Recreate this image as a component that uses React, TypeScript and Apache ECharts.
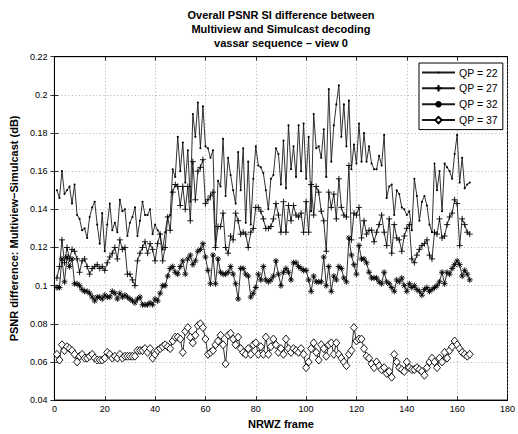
import { useEffect, useRef } from "react";
import * as echarts from "echarts";

// Frame numbers (x) shared by all series
const frames: number[] = Array.from({ length: 165 }, (_, i) => i + 1);

const seriesNames = ["QP = 22", "QP = 27", "QP = 32", "QP = 37"];

const qp22 = [
  0.150, 0.146, 0.160, 0.148, 0.150, 0.152, 0.143, 0.153, 0.137, 0.135,
  0.129, 0.130, 0.125, 0.136, 0.141, 0.144, 0.132, 0.122, 0.138, 0.118,
  0.132, 0.143, 0.129, 0.133, 0.128, 0.145, 0.139, 0.140, 0.126, 0.133,
  0.136, 0.141, 0.126, 0.134, 0.144, 0.137, 0.137, 0.140, 0.127, 0.132,
  0.129, 0.127, 0.119, 0.128, 0.136, 0.137, 0.161, 0.157, 0.178, 0.160,
  0.175, 0.154, 0.171, 0.144, 0.190, 0.178, 0.196, 0.172, 0.194, 0.173,
  0.172, 0.167, 0.171, 0.121, 0.155, 0.152, 0.177, 0.147, 0.167, 0.158,
  0.150, 0.143, 0.170, 0.150, 0.172, 0.133, 0.165, 0.132, 0.156, 0.173,
  0.163, 0.162, 0.159, 0.150, 0.140, 0.156, 0.158, 0.172, 0.169, 0.153,
  0.176, 0.151, 0.184, 0.161, 0.173, 0.157, 0.184, 0.160, 0.185, 0.156,
  0.178, 0.139, 0.190, 0.172, 0.173, 0.167, 0.182, 0.157, 0.203, 0.165,
  0.184, 0.195, 0.205, 0.178, 0.195, 0.173, 0.197, 0.161, 0.174, 0.164,
  0.185, 0.165, 0.180, 0.165, 0.173, 0.164, 0.161, 0.161, 0.168, 0.163,
  0.179, 0.146, 0.152, 0.153, 0.137, 0.150, 0.148, 0.141, 0.140, 0.137,
  0.139, 0.129, 0.156, 0.147, 0.134, 0.144, 0.147, 0.142, 0.132, 0.128,
  0.164, 0.150, 0.160, 0.139, 0.164, 0.162, 0.160, 0.156, 0.169, 0.179,
  0.154, 0.167, 0.151, 0.153, 0.154,
];

const qp27 = [
  0.104, 0.110, 0.124, 0.112, 0.120, 0.114, 0.119, 0.118, 0.114, 0.107,
  0.113, 0.114, 0.110, 0.106, 0.109, 0.110, 0.111, 0.109, 0.110, 0.108,
  0.112, 0.115, 0.117, 0.120, 0.114, 0.124, 0.119, 0.120, 0.106, 0.106,
  0.103, 0.100, 0.113, 0.117, 0.120, 0.123, 0.117, 0.122, 0.119, 0.113,
  0.122, 0.127, 0.113, 0.120, 0.136, 0.129, 0.149, 0.153, 0.152, 0.142,
  0.152, 0.140, 0.152, 0.134, 0.165, 0.145, 0.160, 0.162, 0.166, 0.143,
  0.145, 0.147, 0.149, 0.120, 0.131, 0.131, 0.138, 0.120, 0.117, 0.126,
  0.124, 0.138, 0.134, 0.127, 0.128, 0.127, 0.120, 0.128, 0.130, 0.141,
  0.141, 0.139, 0.135, 0.130, 0.130, 0.131, 0.135, 0.143, 0.137, 0.128,
  0.144, 0.128, 0.142, 0.134, 0.142, 0.137, 0.136, 0.138, 0.128, 0.144,
  0.128, 0.153, 0.137, 0.152, 0.149, 0.139, 0.134, 0.118, 0.149, 0.141,
  0.148, 0.135, 0.156, 0.141, 0.137, 0.136, 0.163, 0.124, 0.138, 0.137,
  0.141, 0.125, 0.134, 0.127, 0.129, 0.129, 0.123, 0.128, 0.132, 0.137,
  0.128, 0.121, 0.135, 0.117, 0.132, 0.125, 0.124, 0.118, 0.126, 0.130,
  0.132, 0.114, 0.112, 0.116, 0.119, 0.121, 0.122, 0.124, 0.116, 0.114,
  0.128, 0.127, 0.135, 0.125, 0.126, 0.132, 0.136, 0.138, 0.145, 0.143,
  0.121, 0.135, 0.132, 0.128, 0.127,
];

const qp32 = [
  0.099, 0.099, 0.114, 0.102, 0.115, 0.110, 0.114, 0.101, 0.101, 0.100,
  0.098, 0.097, 0.097, 0.096, 0.094, 0.092, 0.094, 0.094, 0.093, 0.095,
  0.094, 0.094, 0.097, 0.096, 0.093, 0.096, 0.094, 0.095, 0.094, 0.093,
  0.092, 0.091, 0.093, 0.094, 0.090, 0.090, 0.090, 0.091, 0.090, 0.093,
  0.092, 0.096, 0.100, 0.100, 0.105, 0.109, 0.110, 0.107, 0.106, 0.110,
  0.113, 0.106, 0.114, 0.116, 0.111, 0.113, 0.118, 0.119, 0.122, 0.115,
  0.108, 0.101, 0.116, 0.101, 0.114, 0.107, 0.106, 0.106, 0.107, 0.110,
  0.106, 0.101, 0.093, 0.109, 0.109, 0.106, 0.105, 0.094, 0.096, 0.099,
  0.106, 0.103, 0.110, 0.103, 0.102, 0.103, 0.105, 0.113, 0.106, 0.100,
  0.107, 0.109, 0.107, 0.103, 0.112, 0.112, 0.110, 0.109, 0.108, 0.108,
  0.103, 0.097, 0.105, 0.102, 0.102, 0.102, 0.115, 0.100, 0.110, 0.097,
  0.105, 0.103, 0.110, 0.109, 0.104, 0.102, 0.125, 0.116, 0.111, 0.106,
  0.121, 0.114, 0.114, 0.112, 0.107, 0.104, 0.104, 0.104, 0.102, 0.101,
  0.107, 0.102, 0.101, 0.099, 0.097, 0.103, 0.102, 0.104, 0.100, 0.097,
  0.101, 0.099, 0.100, 0.098, 0.097, 0.095, 0.098, 0.099, 0.097, 0.098,
  0.099, 0.100, 0.102, 0.107, 0.101, 0.107, 0.106, 0.109, 0.111, 0.113,
  0.111, 0.105, 0.108, 0.106, 0.103,
];

const qp37 = [
  0.064, 0.061, 0.069, 0.066, 0.068, 0.067, 0.066, 0.064, 0.060, 0.063,
  0.064, 0.062, 0.062, 0.063, 0.064, 0.062, 0.061, 0.061, 0.061, 0.062,
  0.065, 0.064, 0.062, 0.063, 0.062, 0.064, 0.062, 0.063, 0.063, 0.063,
  0.063, 0.063, 0.066, 0.066, 0.066, 0.067, 0.065, 0.067, 0.062, 0.064,
  0.066, 0.067, 0.068, 0.069, 0.068, 0.067, 0.071, 0.073, 0.073, 0.072,
  0.065, 0.076, 0.078, 0.073, 0.070, 0.074, 0.079, 0.080, 0.078, 0.072,
  0.064, 0.065, 0.066, 0.069, 0.071, 0.074, 0.069, 0.059, 0.074, 0.075,
  0.072, 0.069, 0.073, 0.067, 0.065, 0.064, 0.067, 0.064, 0.069, 0.070,
  0.064, 0.068, 0.064, 0.073, 0.064, 0.068, 0.072, 0.069, 0.065, 0.067,
  0.064, 0.072, 0.067, 0.065, 0.067, 0.066, 0.065, 0.067, 0.064, 0.057,
  0.060, 0.067, 0.070, 0.065, 0.061, 0.069, 0.067, 0.063, 0.069, 0.070,
  0.064, 0.070, 0.064, 0.062, 0.060, 0.058, 0.064, 0.066, 0.078, 0.071,
  0.072, 0.072, 0.067, 0.063, 0.062, 0.059, 0.057, 0.060, 0.058, 0.056,
  0.057, 0.054, 0.055, 0.052, 0.064, 0.060, 0.057, 0.056, 0.055, 0.060,
  0.057, 0.056, 0.056, 0.057, 0.056, 0.055, 0.053, 0.057, 0.060, 0.062,
  0.060, 0.057, 0.062, 0.060, 0.065, 0.062, 0.066, 0.068, 0.071, 0.069,
  0.067, 0.065, 0.064, 0.063, 0.064,
];

const xMin = 0;
const xMax = 180;
const xStep = 20;
const yMin = 0.04;
const yMax = 0.22;
const yStep = 0.02;

const FONT = '"Liberation Sans", Arial, Helvetica, sans-serif';

const SYM_DOT = "path://M0 0M10 10M3.5 5A1.5 1.5 0 1 1 6.5 5A1.5 1.5 0 1 1 3.5 5Z";
const SYM_PLUS = "path://M5 0L5 10M0 5L10 5";
const SYM_STAR = "path://M5 0L5 10M0 5L10 5M1.5 1.5L8.5 8.5M8.5 1.5L1.5 8.5";

export default function App() {
  const ref = useRef<HTMLDivElement>(null);

  useEffect(() => {
    if (!ref.current) return;
    const chart = echarts.init(ref.current, undefined, { renderer: "svg" });

    const toData = (vals: number[]) => frames.map((f, i) => [f, vals[i]]);
    const lineColor = "#1a1a1a";

    const gridLine = { show: true, lineStyle: { color: "#9a9a9a", type: [1, 2.5], width: 0.8 } };
    const tickStyle = { show: true, inside: true, length: 4, lineStyle: { color: "#000", width: 0.8 } };
    const axisLine = { show: true, lineStyle: { color: "#000", width: 1 } };

    chart.setOption({
      animation: false,
      backgroundColor: "#fff",
      grid: {
        left: 50.7,
        right: 7.5,
        top: 56.7,
        bottom: 30,
        show: true,
        borderColor: "#000",
        borderWidth: 1,
        backgroundColor: "#fff",
      },
      graphic: [
        {
          type: "text",
          x: 281,
          y: 8,
          style: {
            text:
              "Overall PSNR SI difference between\nMultiview and Simulcast decoding\nvassar sequence – view 0",
            textAlign: "center",
            font: `bold 11px ${FONT}`,
            lineHeight: 14,
            fill: "#000",
          },
          silent: true,
        },
      ],
      legend: {
        orient: "vertical",
        left: 419,
        top: 63,
        itemWidth: 33,
        itemHeight: 8,
        itemGap: 4.6,
        padding: [4, 5, 4, 2],
        backgroundColor: "#fff",
        borderColor: "#000",
        borderWidth: 1,
        selectedMode: false,
        textStyle: { fontSize: 10.5, color: "#000", fontFamily: FONT, padding: [0, 0, 0, -1] },
        data: seriesNames,
      },
      xAxis: [
        {
          type: "value",
          min: xMin,
          max: xMax,
          interval: xStep,
          position: "bottom",
          axisLine,
          axisTick: tickStyle,
          axisLabel: { color: "#000", fontSize: 9, fontFamily: FONT, margin: 4 },
          splitLine: gridLine,
          name: "NRWZ frame",
          nameLocation: "middle",
          nameGap: 17,
          nameTextStyle: { fontWeight: "bold", fontSize: 11, color: "#000", fontFamily: FONT },
        },
        {
          type: "value",
          min: xMin,
          max: xMax,
          interval: xStep,
          position: "top",
          axisLine,
          axisTick: tickStyle,
          axisLabel: { show: false },
          splitLine: { show: false },
        },
      ],
      yAxis: [
        {
          type: "value",
          min: yMin,
          max: yMax,
          interval: yStep,
          position: "left",
          axisLine,
          axisTick: tickStyle,
          axisLabel: {
            color: "#000",
            fontSize: 9,
            fontFamily: FONT,
            margin: 7,
            formatter: (v: number) => String(Number(v.toFixed(2))),
          },
          splitLine: gridLine,
          name: "PSNR difference: Multiview−Simulcast (dB)",
          nameLocation: "middle",
          nameGap: 30,
          nameTextStyle: { fontWeight: "bold", fontSize: 11, color: "#000", fontFamily: FONT },
        },
        {
          type: "value",
          min: yMin,
          max: yMax,
          interval: yStep,
          position: "right",
          axisLine,
          axisTick: tickStyle,
          axisLabel: { show: false },
          splitLine: { show: false },
        },
      ],
      series: [
        {
          name: seriesNames[0],
          type: "line",
          data: toData(qp22),
          symbol: SYM_DOT,
          symbolSize: 7,
          showAllSymbol: true,
          lineStyle: { color: lineColor, width: 0.9 },
          itemStyle: { color: "#000" },
          silent: true,
          emphasis: { disabled: true },
        },
        {
          name: seriesNames[1],
          type: "line",
          data: toData(qp27),
          symbol: SYM_PLUS,
          symbolSize: 6,
          showAllSymbol: true,
          lineStyle: { color: lineColor, width: 0.9 },
          itemStyle: { color: "none", borderColor: "#000", borderWidth: 0.9 },
          silent: true,
          emphasis: { disabled: true },
        },
        {
          name: seriesNames[2],
          type: "line",
          data: toData(qp32),
          symbol: SYM_STAR,
          symbolSize: 6,
          showAllSymbol: true,
          lineStyle: { color: lineColor, width: 0.9 },
          itemStyle: { color: "none", borderColor: "#000", borderWidth: 0.9 },
          silent: true,
          emphasis: { disabled: true },
        },
        {
          name: seriesNames[3],
          type: "line",
          data: toData(qp37),
          symbol: "diamond",
          symbolSize: [7, 8],
          showAllSymbol: true,
          lineStyle: { color: lineColor, width: 0.9 },
          itemStyle: { color: "#fff", borderColor: "#000", borderWidth: 0.9 },
          silent: true,
          emphasis: { disabled: true },
        },
      ],
    });

    return () => chart.dispose();
  }, []);

  return (
    <div
      ref={ref}
      style={{ position: "fixed", left: 0, top: 0, width: 518, height: 434, background: "#fff" }}
    />
  );
}
